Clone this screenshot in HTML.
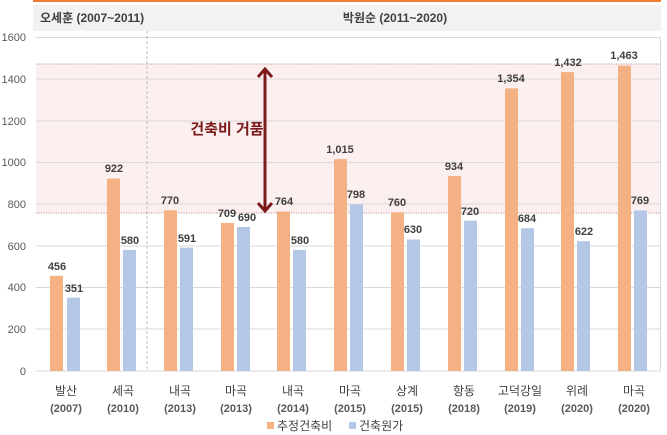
<!DOCTYPE html>
<html><head><meta charset="utf-8"><style>
html,body{margin:0;padding:0;background:#fff;}
svg{display:block;font-family:"Liberation Sans","Noto Sans CJK KR",sans-serif;}
.l{font-size:11px;font-weight:bold;fill:#404040;text-anchor:middle;}
.t{font-size:11px;fill:#595959;text-anchor:end;}
.x{font-size:12px;fill:#404040;text-anchor:middle;}
.xy{font-size:11px;font-weight:bold;fill:#595959;text-anchor:middle;}
</style></head><body>
<svg width="667" height="435" viewBox="0 0 667 435">
<rect x="33" y="0" width="628" height="2" fill="#ed7d31"/>
<rect x="33" y="5" width="628" height="26" fill="#f2f2f2"/>
<text x="40" y="22" font-size="12" font-weight="bold" fill="#404040">오세훈 (2007~2011)</text>
<text x="395" y="22" font-size="12" font-weight="bold" fill="#404040" text-anchor="middle">박원순 (2011~2020)</text>
<rect x="36" y="64" width="624" height="149" fill="#fcefef"/>
<g stroke="#d9d9d9" stroke-width="1">
<line x1="36" x2="660" y1="37.5" y2="37.5"/><line x1="36" x2="660" y1="79" y2="79"/><line x1="36" x2="660" y1="121" y2="121"/><line x1="36" x2="660" y1="162.5" y2="162.5"/><line x1="36" x2="660" y1="204" y2="204"/><line x1="36" x2="660" y1="246" y2="246"/><line x1="36" x2="660" y1="287.5" y2="287.5"/><line x1="36" x2="660" y1="329" y2="329"/><line x1="36" x2="660" y1="371" y2="371"/>
<line x1="660.5" x2="660.5" y1="37" y2="371"/>
</g>
<line x1="147" x2="147" y1="31" y2="371" stroke="#bfbfbf" stroke-dasharray="3,2"/>
<line x1="36" x2="660" y1="64" y2="64" stroke="#c08080" stroke-dasharray="1,1.5"/>
<line x1="36" x2="660" y1="213" y2="213" stroke="#c08080" stroke-dasharray="1,1.5"/>
<g class="t"><text x="26" y="41">1600</text><text x="26" y="83">1400</text><text x="26" y="125">1200</text><text x="26" y="166">1000</text><text x="26" y="208">800</text><text x="26" y="250">600</text><text x="26" y="291">400</text><text x="26" y="333">200</text><text x="26" y="375">0</text></g>
<g transform="translate(0,371) scale(1,-0.20875)">
<g fill="#f4b183">
<rect x="50" width="13" y="0" height="456"/><rect x="107" width="13" y="0" height="922"/><rect x="164" width="13" y="0" height="770"/><rect x="221" width="13" y="0" height="709"/><rect x="277" width="13" y="0" height="764"/><rect x="334" width="13" y="0" height="1015"/><rect x="391" width="13" y="0" height="760"/><rect x="448" width="13" y="0" height="934"/><rect x="505" width="13" y="0" height="1354"/><rect x="561" width="13" y="0" height="1432"/><rect x="618" width="13" y="0" height="1463"/>
</g>
<g fill="#b4c7e7">
<rect x="67" width="13" y="0" height="351"/><rect x="123" width="13" y="0" height="580"/><rect x="180" width="13" y="0" height="591"/><rect x="237" width="13" y="0" height="690"/><rect x="293" width="13" y="0" height="580"/><rect x="350" width="13" y="0" height="798"/><rect x="407" width="13" y="0" height="630"/><rect x="464" width="13" y="0" height="720"/><rect x="521" width="13" y="0" height="684"/><rect x="577" width="13" y="0" height="622"/><rect x="634" width="13" y="0" height="769"/>
</g></g>
<g class="l">
<text x="57" y="270">456</text><text x="114" y="172">922</text><text x="170" y="204">770</text><text x="227" y="217">709</text><text x="284" y="205">764</text><text x="340" y="153">1,015</text><text x="397" y="206">760</text><text x="454" y="170">934</text><text x="511" y="82">1,354</text><text x="568" y="66">1,432</text><text x="624" y="59">1,463</text>
<text x="74" y="292">351</text><text x="130" y="244">580</text><text x="187" y="242">591</text><text x="247" y="221">690</text><text x="300" y="244">580</text><text x="356" y="198">798</text><text x="413" y="233">630</text><text x="470" y="215">720</text><text x="527" y="222">684</text><text x="584" y="235">622</text><text x="640" y="204">769</text>
</g>
<g stroke="#7b1a1a" stroke-width="3" fill="none">
<line x1="265" y1="70" x2="265" y2="210"/>
<polyline points="258,77 265,69 272,77"/><polyline points="258,203 265,211 272,203"/>
</g>
<text x="227" y="134" font-size="15" font-weight="bold" fill="#7b1a1a" text-anchor="middle">건축비 거품</text>
<g class="x">
<text x="66" y="395">발산</text><text x="123" y="395">세곡</text><text x="180" y="395">내곡</text><text x="236" y="395">마곡</text><text x="293" y="395">내곡</text><text x="350" y="395">마곡</text><text x="407" y="395">상계</text><text x="464" y="395">항동</text><text x="520" y="395">고덕강일</text><text x="577" y="395">위례</text><text x="634" y="395">마곡</text>
</g>
<g class="xy">
<text x="66" y="412">(2007)</text><text x="123" y="412">(2010)</text><text x="180" y="412">(2013)</text><text x="236" y="412">(2013)</text><text x="293" y="412">(2014)</text><text x="350" y="412">(2015)</text><text x="407" y="412">(2015)</text><text x="464" y="412">(2018)</text><text x="520" y="412">(2019)</text><text x="577" y="412">(2020)</text><text x="634" y="412">(2020)</text>
</g>
<rect x="267" y="422" width="7" height="7" fill="#f4b183"/>
<text x="277" y="430" font-size="12" fill="#404040">추정건축비</text>
<rect x="349" y="422" width="7" height="7" fill="#b4c7e7"/>
<text x="359" y="430" font-size="12" fill="#404040">건축원가</text>
</svg>
</body></html>
